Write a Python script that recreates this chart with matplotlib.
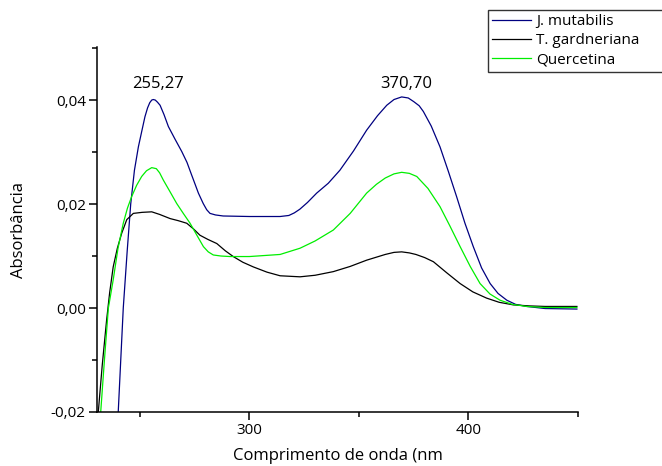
import matplotlib
matplotlib.use("Agg")
import matplotlib.pyplot as plt
from matplotlib.ticker import MultipleLocator, FuncFormatter

# UV-Vis spectra (wavelength nm, absorbance)
jm_nm = [240.1, 242.4, 244.2, 245.8, 247.5, 249.3, 251.0, 252.3, 253.5, 254.5,
         255.4, 256.1, 257.0, 258.0, 259.2, 261.0, 263.0, 266.0, 269.1, 271.5,
         273.6, 275.2, 276.7, 278.9, 280.5, 282.0, 284.5, 288.0, 300.0, 310.0,
         314.0, 318.0, 320.5, 323.0, 326.5, 330.7, 336.0, 341.3, 347.5, 353.5,
         358.5, 362.7, 366.0, 369.5, 372.5, 375.0, 377.5, 379.4, 383.0, 387.0,
         390.8, 394.6, 398.4, 402.2, 406.0, 409.9, 413.5, 417.5, 421.5, 426.6,
         435.0, 449.5]
jm_abs = [-0.0200, 0.0000, 0.0110, 0.0200, 0.0265, 0.0310, 0.0343, 0.0368, 0.0385, 0.0395,
          0.0400, 0.0401, 0.0400, 0.0396, 0.0390, 0.0372, 0.0349, 0.0325, 0.0301, 0.0280,
          0.0256, 0.0238, 0.0221, 0.0201, 0.0189, 0.0182, 0.0179, 0.0177, 0.0176, 0.0176,
          0.0176, 0.0178, 0.0183, 0.0190, 0.0203, 0.0221, 0.0240, 0.0265, 0.0302, 0.0342,
          0.0370, 0.0390, 0.0401, 0.0406, 0.0404, 0.0397, 0.0389, 0.0378, 0.0350, 0.0310,
          0.0263, 0.0214, 0.0163, 0.0118, 0.0077, 0.0047, 0.0028, 0.0015, 0.0007, 0.0003,
          -0.0001, -0.0002]

tg_nm = [231.0, 232.8, 234.8, 236.2, 237.8, 239.7, 241.7, 244.0, 247.0, 251.0,
         255.4, 259.0, 263.8, 267.5, 271.4, 274.5, 277.4, 281.0, 285.1, 289.0,
         292.6, 297.0, 301.8, 308.0, 314.0, 323.1, 330.0, 338.3, 346.0, 353.5,
         362.0, 366.0, 369.5, 373.0, 376.0, 380.0, 384.0, 390.0, 396.2, 402.0,
         408.3, 414.0, 420.5, 428.0, 435.0, 449.5]
tg_abs = [-0.0200, -0.0110, -0.0023, 0.0030, 0.0079, 0.0115, 0.0144, 0.0170, 0.0182, 0.0184,
          0.0185, 0.0180, 0.0172, 0.0168, 0.0163, 0.0152, 0.0140, 0.0132, 0.0124, 0.0110,
          0.0099, 0.0088, 0.0079, 0.0069, 0.0062, 0.0060, 0.0063, 0.0070, 0.0080, 0.0092,
          0.0103, 0.0107, 0.0108, 0.0106, 0.0103, 0.0097, 0.0089, 0.0068, 0.0047, 0.0031,
          0.0019, 0.0011, 0.0006, 0.0004, 0.0003, 0.0003]

qc_nm = [232.1, 233.8, 235.6, 237.8, 240.0, 242.4, 244.3, 246.2, 248.5, 250.8,
         253.0, 255.4, 257.5, 259.0, 260.7, 263.7, 266.8, 269.8, 272.9, 276.0,
         279.0, 281.2, 283.5, 287.0, 291.1, 300.0, 314.0, 323.1, 330.0, 338.3,
         346.0, 353.5, 358.0, 362.0, 366.0, 369.5, 373.0, 376.4, 381.5, 387.0,
         391.5, 396.2, 400.8, 405.3, 409.8, 414.4, 420.0, 426.6, 435.0, 449.5]
qc_abs = [-0.0200, -0.0100, 0.0000, 0.0054, 0.0115, 0.0163, 0.0192, 0.0214, 0.0236, 0.0253,
          0.0264, 0.0270, 0.0268, 0.0260, 0.0246, 0.0224, 0.0201, 0.0182, 0.0163, 0.0140,
          0.0118, 0.0108, 0.0102, 0.0100, 0.0099, 0.0099, 0.0103, 0.0115, 0.0129, 0.0150,
          0.0182, 0.0221, 0.0238, 0.0250, 0.0258, 0.0261, 0.0259, 0.0253, 0.0230, 0.0195,
          0.0158, 0.0118, 0.0080, 0.0047, 0.0027, 0.0015, 0.0007, 0.0003, 0.0001, 0.0001]

series_names = ["J. mutabilis", "T. gardneriana", "Quercetina"]
peak_labels = ["255,27", "370,70"]
peak_pos = [(258.1, 0.0430), (371.5, 0.0431)]

plt.rcParams["font.family"] = ["Open Sans", "DejaVu Sans"]

fig = plt.figure(figsize=(6.62, 4.66), dpi=100)
ax = fig.add_axes([0.1465, 0.1159, 0.7266, 0.7832])

ax.plot(jm_nm, jm_abs, color="#000080", lw=0.9, label=series_names[0])
ax.plot(tg_nm, tg_abs, color="black", lw=0.9, label=series_names[1])
ax.plot(qc_nm, qc_abs, color="#00ee00", lw=0.9, label=series_names[2])

for txt, (x, y) in zip(peak_labels, peak_pos):
    ax.text(x, y, txt, ha="center", va="center", fontsize=12)

ax.set_xlim(230.4, 450)
ax.set_ylim(-0.02, 0.0502)
ax.spines["top"].set_visible(False)
ax.spines["right"].set_visible(False)
for s in ("left", "bottom"):
    ax.spines[s].set_linewidth(1.1)

ax.xaxis.set_major_locator(MultipleLocator(100))
ax.xaxis.set_minor_locator(MultipleLocator(50))
ax.yaxis.set_major_locator(MultipleLocator(0.02))
ax.yaxis.set_minor_locator(MultipleLocator(0.01))
ax.yaxis.set_major_formatter(FuncFormatter(lambda v, p: f"{v:.2f}".replace(".", ",")))
ax.tick_params(which="major", length=6, width=1.1, labelsize=11, pad=2)
ax.tick_params(which="minor", length=3.6, width=1.1)

ax.set_xlabel("Comprimento de onda (nm", fontsize=12, labelpad=7)
ax.set_ylabel("Absorbância", fontsize=12, labelpad=17)

leg = fig.legend(loc="upper left", bbox_to_anchor=(0.737, 0.835, 0.268, 0.144),
                 mode="expand", borderaxespad=0, fontsize=11, frameon=True,
                 fancybox=False, handlelength=2.5, handletextpad=0.35,
                 labelspacing=0.25, borderpad=0.3)
leg.get_frame().set_edgecolor("black")
leg.get_frame().set_linewidth(1.0)

fig.savefig("out.png", dpi=100)
